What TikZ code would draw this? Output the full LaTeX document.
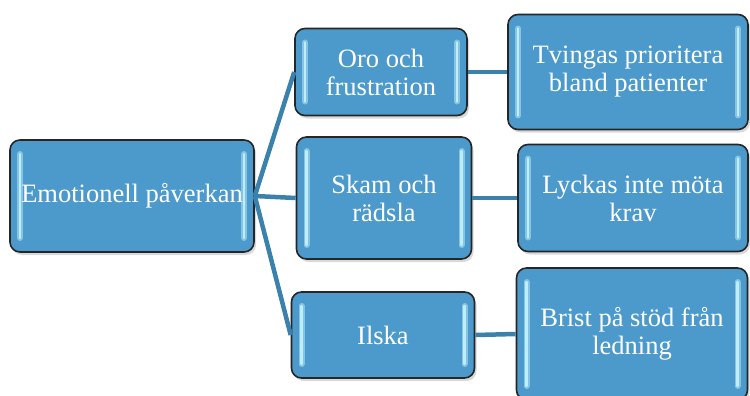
\documentclass[tikz,border=0pt]{standalone}
\usepackage{fontspec}
\setmainfont{Liberation Serif}
\usepackage{xcolor}
\usepackage{tikz}
\usetikzlibrary{positioning, shadows}

\definecolor{boxblue}{RGB}{76,154,204}
\definecolor{linkblue}{RGB}{58,130,172}
\definecolor{glow}{RGB}{190,238,252}

\begin{document}
\begin{tikzpicture}[
    x=1pt, y=-1pt,
    box/.style={draw=black!85, line width=1.6pt, rounded corners=10pt, fill=boxblue,
        text=white, align=center, font=\fontsize{26.5}{28}\selectfont,
        drop shadow={shadow xshift=2pt, shadow yshift=-3pt, opacity=0.3},
        path picture={
            \draw[glowsoft] ([xshift=10pt,yshift=-14pt]path picture bounding box.north west)
                -- ([xshift=10pt,yshift=14pt]path picture bounding box.south west);
            \draw[glowsoft] ([xshift=-10pt,yshift=-14pt]path picture bounding box.north east)
                -- ([xshift=-10pt,yshift=14pt]path picture bounding box.south east);
            \draw[glowbar] ([xshift=10pt,yshift=-14pt]path picture bounding box.north west)
                -- ([xshift=10pt,yshift=14pt]path picture bounding box.south west);
            \draw[glowbar] ([xshift=-10pt,yshift=-14pt]path picture bounding box.north east)
                -- ([xshift=-10pt,yshift=14pt]path picture bounding box.south east);
        }},
    glowsoft/.style={glow, opacity=0.5, line width=6pt, line cap=round},
    glowbar/.style={glow, line width=2.5pt, line cap=round},
    link/.style={linkblue, line width=4.5pt},
]

\useasboundingbox (0,0) rectangle (750,396);

\node[box, minimum width=244pt, minimum height=112pt] (emo) at (132,196) {Emotionell påverkan};

\node[box, minimum width=172pt, minimum height=87pt] (oro) at (381,72) {Oro och\\frustration};
\node[box, minimum width=175pt, minimum height=122pt] (skam) at (384,198) {Skam och\\rädsla};
\node[box, minimum width=183pt, minimum height=86pt] (ilska) at (383,335) {Ilska};

\node[box, minimum width=240pt, minimum height=115pt] (prio) at (628,72) {Tvingas prioritera\\bland patienter};
\node[box, minimum width=230pt, minimum height=107pt] (krav) at (633,198) {Lyckas inte möta\\krav};
\node[box, minimum width=231pt, minimum height=132pt] (stod) at (632,334) {Brist på stöd från\\ledning};

% connectors
\draw[link] (emo.east) -- (oro.west);
\draw[link] (emo.east) -- (skam.west);
\draw[link] (emo.east) -- (ilska.west);
\draw[link] (oro.east) -- (prio.west);
\draw[link] (skam.east) -- (krav.west);
\draw[link] (ilska.east) -- (stod.west);

\end{tikzpicture}
\end{document}
